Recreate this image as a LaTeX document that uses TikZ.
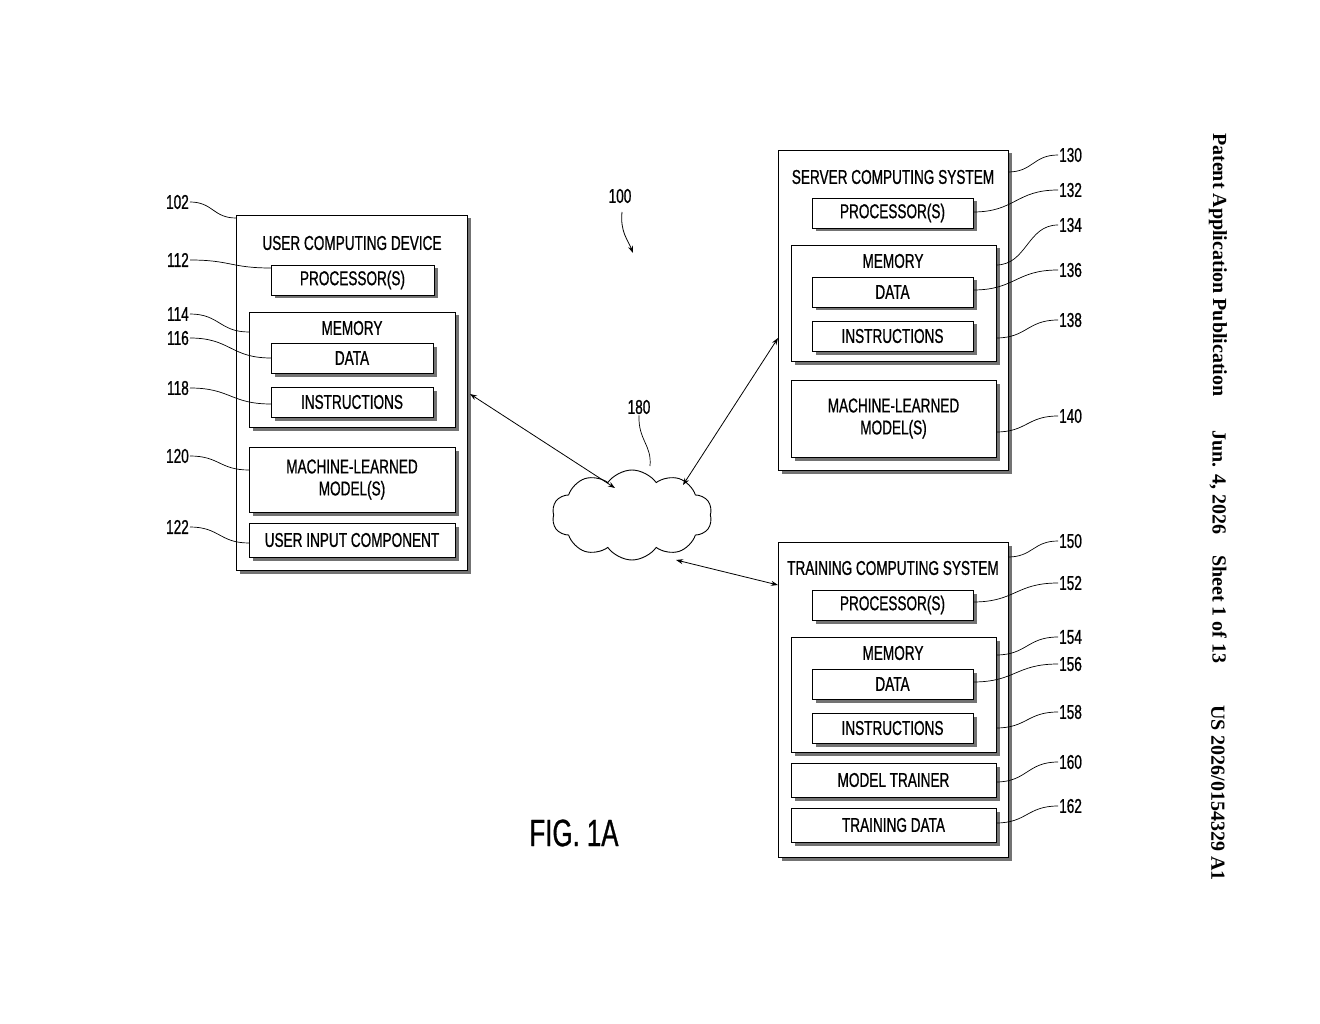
\documentclass[tikz,border=0pt]{standalone}
\usepackage{fontspec}
\setmainfont{Liberation Sans}
\newfontfamily\cond[FakeStretch=0.68,FakeBold=0.8]{Liberation Sans}
\newfontfamily\tms{Liberation Serif}
\usetikzlibrary{shadows,shapes.symbols,arrows.meta}
\newcommand{\bx}[6][]{\node[box,#1,minimum width={(#4)-(#2)},minimum height={(#5)-(#3)}] (#6) at ({((#2)+(#4))/2},{((#3)+(#5))/2}) {};}
\begin{document}
\begin{tikzpicture}[x=1pt,y=-1pt,
  box/.style={draw,line width=0.9pt,fill=white,inner sep=0pt,drop shadow={shadow xshift=3.5pt,shadow yshift=-3.5pt,fill=black!55,opacity=1}},
  txt/.style={font=\cond\fontsize{20}{22}\selectfont,align=center,inner sep=0pt},
  lbl/.style={font=\cond\fontsize{20}{22}\selectfont,inner sep=1pt},
  lead/.style={line width=0.7pt},
  arr/.style={line width=0.8pt,{Stealth[length=7pt,width=5pt]}-{Stealth[length=7pt,width=5pt]}}]
\useasboundingbox (0,0) rectangle (1320,1024);
% left device
\bx{236}{215}{467}{570}{ucd}
\node[txt] (ucdt) at (352,243) {USER COMPUTING DEVICE};
\bx{271}{265}{434}{295}{up} \node[txt] at (up) {PROCESSOR(S)};
\bx{249}{312}{455}{427}{um} \node[txt] (umt) at (352,328) {MEMORY};
\bx{271}{343}{433}{373}{ud} \node[txt] at (ud) {DATA};
\bx{271}{387}{433}{417}{ui} \node[txt] at (ui) {INSTRUCTIONS};
\bx{249}{447}{455}{512}{uml} \node[txt] at (uml) {MACHINE-LEARNED\\MODEL(S)};
\bx{249}{523}{455}{557}{uin} \node[txt] at (uin) {USER INPUT COMPONENT};
% server
\bx{778}{150}{1008}{470}{srv}
\node[txt] (srvt) at (893,177) {SERVER COMPUTING SYSTEM};
\bx{812}{198}{973}{228}{sp} \node[txt] at (sp) {PROCESSOR(S)};
\bx{791}{245}{996}{361}{sm} \node[txt] (smt) at (893,261) {MEMORY};
\bx{812}{277}{973}{307}{sd} \node[txt] at (sd) {DATA};
\bx{812}{321}{973}{351}{si} \node[txt] at (si) {INSTRUCTIONS};
\bx{791}{380}{996}{457}{sml} \node[txt] at (sml) {MACHINE-LEARNED\\MODEL(S)};
% training
\bx{778}{542}{1008}{857}{trn}
\node[txt] (trnt) at (893,568) {TRAINING COMPUTING SYSTEM};
\bx{812}{590}{973}{620}{tp} \node[txt] at (tp) {PROCESSOR(S)};
\bx{791}{637}{996}{752}{tm} \node[txt] (tmt) at (893,653) {MEMORY};
\bx{812}{669}{973}{699}{td} \node[txt] at (td) {DATA};
\bx{812}{713}{973}{743}{ti} \node[txt] at (ti) {INSTRUCTIONS};
\bx{791}{763}{996}{797}{tmt2} \node[txt] at (tmt2) {MODEL TRAINER};
\bx{791}{808}{996}{842}{tdd} \node[txt] at (tdd) {TRAINING DATA};
% cloud
\node[cloud,draw,line width=0.9pt,fill=white,cloud puffs=10,cloud puff arc=110,aspect=1.9,minimum width=160pt,minimum height=90pt,inner sep=0pt] (net) at (632,515) {};
\node[lbl] (l180) at (639,407) {180};
\draw[lead] (650,466) .. controls (652,445) and (638,440) .. (l180.south);
% arrows
\coordinate (a1) at (470,394); \coordinate (b1) at (615,488);
\coordinate (a2) at (778,338); \coordinate (b2) at (683,485);
\coordinate (a3) at (778,585); \coordinate (b3) at (676,560);
\draw[arr] (a1) -- (b1);
\draw[arr] (a2) -- (b2);
\draw[arr] (a3) -- (b3);
% 100
\node[lbl] (l100) at (620,196) {100};
\coordinate (p100) at (633,253);
\draw[line width=0.8pt,-{Stealth[length=7pt,width=5pt]}] (622,212) .. controls (620,232) and (628,240) .. (p100);
% left labels
\foreach \n/\y/\tx/\ty in {102/202/236/218,112/260/271/268,114/314/249/332,116/338/271/358,118/388/271/404,120/456/249/470,122/527/249/543}{
  \node[lbl,anchor=east] (L\n) at (190,\y) {\n};
  \draw[lead] (L\n.east) .. controls ({(190+\tx)/2},\y) and ({(190+\tx)/2},\ty) .. (\tx,\ty);
}
% right labels
\foreach \n/\y/\fx/\fy in {130/155/1008/172,132/190/973/212,134/225/996/265,136/270/973/290,138/320/996/338,140/416/996/432,150/541/1008/557,152/583/973/602,154/637/996/655,156/664/973/682,158/712/996/728,160/762/996/782,162/806/996/823}{
  \node[lbl,anchor=west] (R\n) at (1058,\y) {\n};
  \draw[lead] (\fx,\fy) .. controls ({(1058+\fx)/2},\fy) and ({(1058+\fx)/2},\y) .. (R\n.west);
}
\node[font=\cond\fontsize{38}{40}\selectfont,inner sep=0pt] (fig) at (574,833) {FIG. 1A};
% header
\node[font=\tms\bfseries\fontsize{20}{22}\selectfont,rotate=-90,anchor=west,inner sep=0pt] (h1) at (1218,133) {Patent Application Publication};
\node[font=\tms\bfseries\fontsize{20}{22}\selectfont,rotate=-90,anchor=west,inner sep=0pt] (h2) at (1218,430) {Jun. 4, 2026\hspace{0.8em} Sheet 1 of 13};
\node[font=\tms\bfseries\fontsize{20}{22}\selectfont,rotate=-90,anchor=west,inner sep=0pt] (h3) at (1218,705) {US 2026/0154329 A1};
\end{tikzpicture}
\end{document}
